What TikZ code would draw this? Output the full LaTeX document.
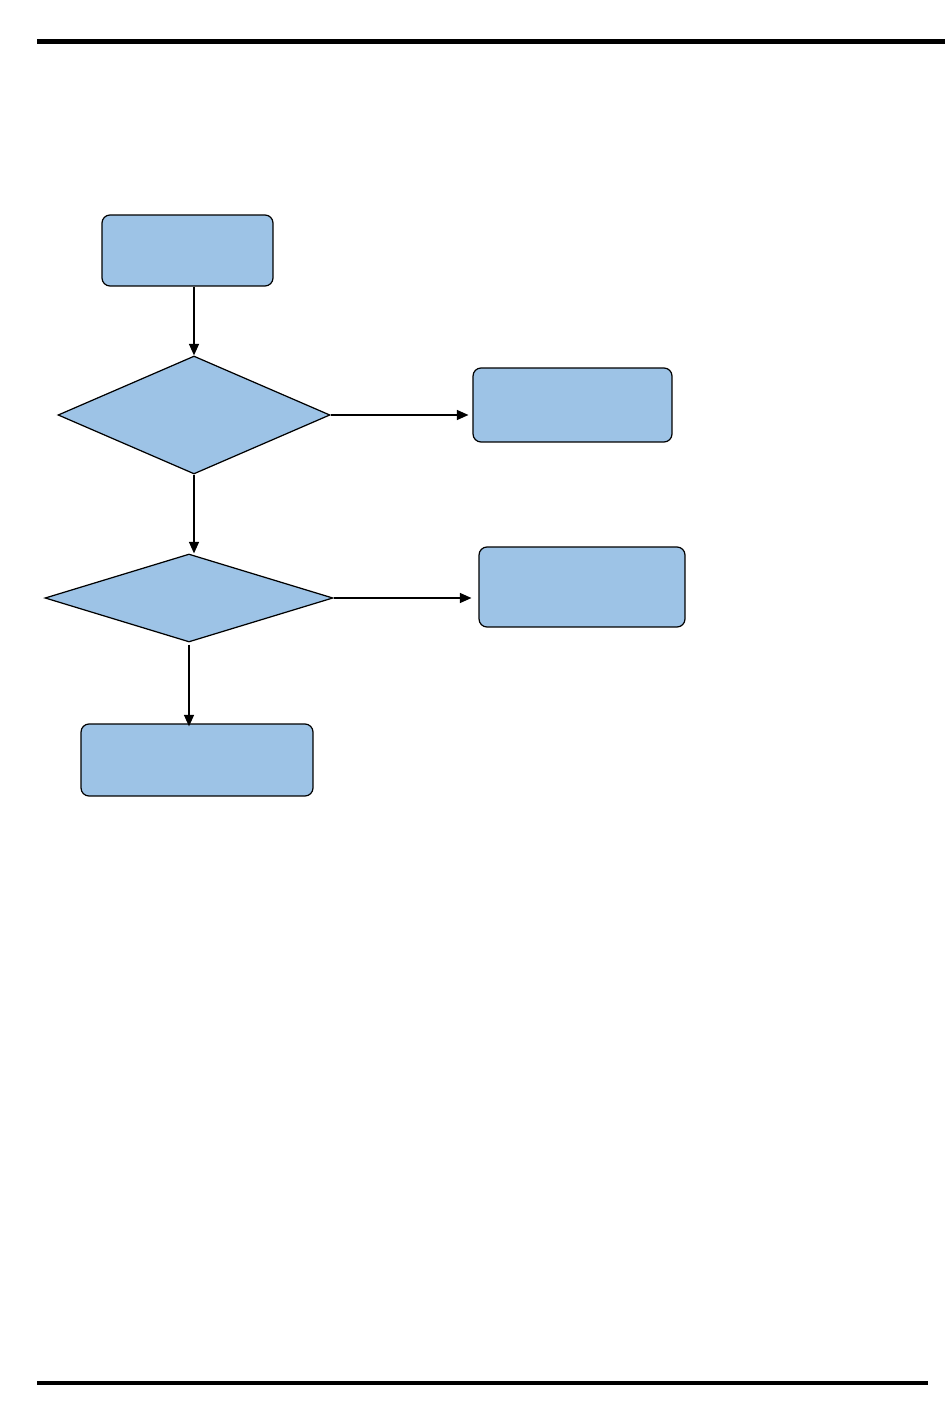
\documentclass[tikz,border=0pt]{standalone}
\usetikzlibrary{shapes.geometric,arrows.meta}
\definecolor{boxblue}{RGB}{157,195,230}

\begin{document}
\begin{tikzpicture}[x=0.02cm, y=-0.02cm,
    box/.style = {draw, fill=boxblue, rounded corners=1.6mm, line width=0.7pt, inner sep=0pt},
    test/.style = {draw, fill=boxblue, diamond, line width=0.7pt, inner sep=0pt},
    link/.style = {-{Triangle[length=2.3mm,width=2mm]}, line width=0.75pt}]
\useasboundingbox (0,0) rectangle (950,1408);
% page rules
\draw[line width=2.6pt] (37,41.5) -- (945,41.5);
\draw[line width=2.6pt] (37,1383) -- (928,1383);
% steps
\node[box, minimum width=3.42cm, minimum height=1.42cm] (start) at (187.5,250.5) {};
\node[test, minimum width=5.44cm, minimum height=2.36cm] (testA) at (194,415) {};
\node[box, minimum width=3.98cm, minimum height=1.48cm] (outA) at (572.5,405) {};
\node[test, minimum width=5.76cm, minimum height=1.76cm] (testB) at (189,598) {};
\node[box, minimum width=4.12cm, minimum height=1.6cm] (outB) at (582,587) {};
\node[box, minimum width=4.64cm, minimum height=1.44cm] (finish) at (197,760) {};
% links
\draw[link] (start.south -| testA.north) -- (testA.north);
\draw[link, shorten >=0.08cm] (testA.east) -- (testA.east -| outA.west);
\draw[link] (testA.south) -- (testA.south |- testB.north);
\draw[link, shorten >=0.14cm] (testB.east) -- (testB.east -| outB.west);
\draw[link, shorten >=-0.06cm] ([yshift=-0.04cm]testB.south) -- (testB.south |- finish.north);
\end{tikzpicture}
\end{document}
